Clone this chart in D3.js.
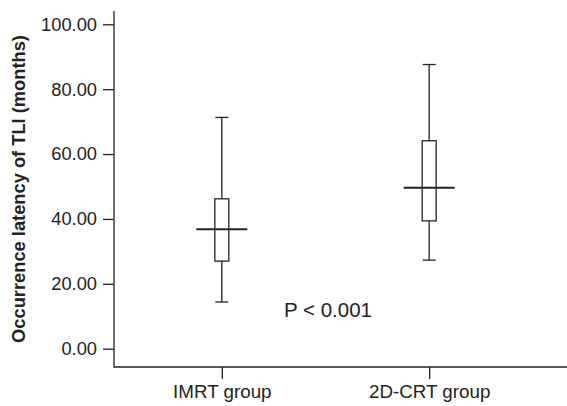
<!DOCTYPE html>
<html>
<head>
<meta charset="utf-8">
<script src="https://cdn.jsdelivr.net/npm/d3@7"></script>
<style>
  body { margin: 0; background: #fff; }
  svg { font-family: "Liberation Sans", Arial, sans-serif; }
</style>
</head>
<body>
<svg width="567" height="406"></svg>
<script>
// data gelezen uit de figuur
var groups = ["IMRT group", "2D-CRT group"];
var whiskerLow = [14.4, 27.3];
var q1 = [27.0, 39.4];
var median = [36.8, 49.6];
var q3 = [46.2, 64.1];
var whiskerHigh = [71.3, 87.6];
var yTicks = [0, 20, 40, 60, 80, 100];
var pLabel = "P < 0.001";

var svg = d3.select("svg"),
    plotLeft = 114,
    plotBottom = 367,
    plotTop = 11,
    plotRight = 567,
    ink = "#222";

var x = d3.scalePoint().domain(groups).range([plotLeft, 537]).padding(0.52);
var y = d3.scaleLinear().domain([0, 100]).range([348.7, 24.3]);

// y as
var yAxis = svg.append("g")
    .attr("transform", "translate(" + plotLeft + ",0)")
    .call(d3.axisLeft(y).tickValues(yTicks).tickSize(11).tickPadding(6)
        .tickFormat(d3.format(".2f")));
yAxis.select(".domain").remove();
yAxis.selectAll("line").attr("stroke", ink).attr("stroke-width", 1.3);
yAxis.selectAll("text").attr("font-size", "18.3px").attr("fill", ink).attr("font-family", null);

// x as
var xAxis = svg.append("g")
    .attr("transform", "translate(0," + plotBottom + ")")
    .call(d3.axisBottom(x).tickSize(12).tickPadding(6));
xAxis.select(".domain").remove();
xAxis.selectAll("line").attr("stroke", ink).attr("stroke-width", 1.3);
xAxis.selectAll("text").attr("font-size", "18.8px").attr("fill", ink).attr("font-family", null);

svg.append("path")
    .attr("d", "M" + plotLeft + "," + plotTop + "V" + plotBottom + "H" + plotRight)
    .attr("fill", "none")
    .attr("stroke", ink)
    .attr("stroke-width", 1.3);

// y label
svg.append("text")
    .attr("transform", "translate(25," + 189 + ") rotate(-90)")
    .attr("text-anchor", "middle")
    .attr("font-size", "18.3px")
    .attr("font-weight", "bold")
    .attr("fill", ink)
    .text("Occurrence latency of TLI (months)");

// boxplots
var boxW = 14, capW = 13, medW = 51;
var boxes = svg.selectAll(".box")
    .data(groups)
    .enter().append("g")
    .attr("class", "box")
    .attr("stroke", ink)
    .attr("fill", "none");

boxes.append("line")
    .attr("x1", function (d) { return x(d); })
    .attr("x2", function (d) { return x(d); })
    .attr("y1", function (d, i) { return y(whiskerHigh[i]); })
    .attr("y2", function (d, i) { return y(q3[i]); })
    .attr("stroke-width", 1.3);

boxes.append("line")
    .attr("x1", function (d) { return x(d); })
    .attr("x2", function (d) { return x(d); })
    .attr("y1", function (d, i) { return y(q1[i]); })
    .attr("y2", function (d, i) { return y(whiskerLow[i]); })
    .attr("stroke-width", 1.3);

boxes.each(function (d, i) {
    var g = d3.select(this);
    [whiskerHigh[i], whiskerLow[i]].forEach(function (v) {
        g.append("line")
            .attr("x1", x(d) - capW / 2)
            .attr("x2", x(d) + capW / 2)
            .attr("y1", y(v))
            .attr("y2", y(v))
            .attr("stroke-width", 1.3);
    });
});

boxes.append("rect")
    .attr("x", function (d) { return x(d) - boxW / 2; })
    .attr("width", boxW)
    .attr("y", function (d, i) { return y(q3[i]); })
    .attr("height", function (d, i) { return y(q1[i]) - y(q3[i]); })
    .attr("stroke-width", 1.3);

boxes.append("line")
    .attr("x1", function (d) { return x(d) - medW / 2; })
    .attr("x2", function (d) { return x(d) + medW / 2; })
    .attr("y1", function (d, i) { return y(median[i]); })
    .attr("y2", function (d, i) { return y(median[i]); })
    .attr("stroke-width", 2);

// p waarde
svg.append("text")
    .attr("x", 284)
    .attr("y", 316.5)
    .attr("font-size", "20.5px")
    .attr("fill", ink)
    .text(pLabel);
</script>
</body>
</html>
